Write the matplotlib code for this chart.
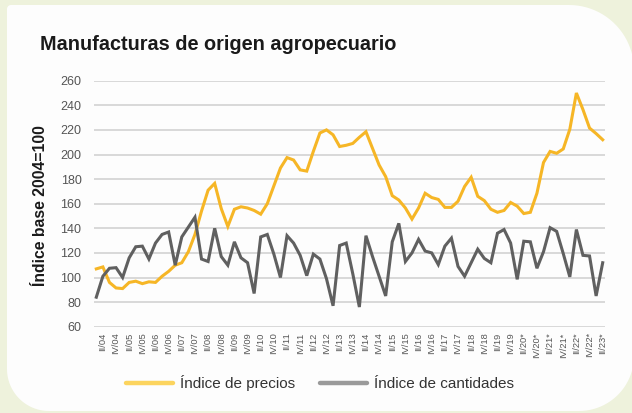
import numpy as np
import matplotlib.pyplot as plt
from matplotlib.path import Path
from matplotlib.patches import PathPatch
from matplotlib.lines import Line2D

W, H = 632, 413

# quarterly series I/04 .. II/23 (78 quarters)
precios = [107, 108.6, 96, 91.5, 91, 96, 97, 95, 96.5, 96,
           101, 105, 110, 112, 121, 135, 154, 171, 176.5,
           156, 141.5, 155.5, 157.5, 156.5, 154.5, 151.5, 160, 174.5, 189,
           197.5, 195.5, 187.5, 186.5, 202.5, 217.5, 220,
           216, 206.5, 207.5, 209, 214, 218.5,
           205, 191.5, 182, 166.5, 163, 156.5, 147.5, 156.5, 168.5, 165,
           163.5, 157, 157, 162, 174, 181.5,
           166, 162.5, 155.5, 153, 154.5, 161, 158, 152, 153, 168.5,
           193.5, 202.5, 201, 204.5, 220.5, 250, 236.5, 221.5, 217, 212]

cantidades = [84, 101, 107.5, 108, 100, 116, 125, 125.5, 115, 128,
              135, 137, 110, 133, 141, 149, 115, 113, 140,
              117, 110, 129, 116, 112, 87, 133, 135, 119, 100,
              134, 128, 118, 101.5, 119, 115, 99, 77, 126, 128,
              103, 76, 134, 117, 101, 85, 129, 144, 113, 120,
              131, 121.5, 120, 110.5, 125.5, 132, 109, 101,
              112, 123, 115.5, 112, 136, 139, 128, 98.5, 129.5, 129,
              107.5, 121, 140.5, 137.5, 119.5, 100.5, 139, 118, 117.5, 85, 112]

tick_labels = ["II/04", "IV/04", "II/05", "IV/05", "II/06", "IV/06", "II/07", "IV/07",
               "II/08", "IV/08", "II/09", "IV/09", "II/10", "IV/10", "II/11", "IV/11",
               "II/12", "IV/12", "II/13", "IV/13", "II/14", "IV/14", "II/15", "IV/15",
               "II/16", "IV/16", "II/17", "IV/17", "II/18", "IV/18", "II/19", "IV/19",
               "II/20*", "IV/20*", "II/21*", "IV/21*", "II/22*", "IV/22*", "II/23*"]

yticks = [60, 80, 100, 120, 140, 160, 180, 200, 220, 240, 260]

AMARILLO = "#f6b626"
GRIS = "#606060"
FONDO = "#eef2dc"

plt.rcParams['font.family'] = ['Liberation Sans', 'DejaVu Sans']

fig = plt.figure(figsize=(W / 100, H / 100), dpi=100)
fig.patch.set_facecolor(FONDO)


def panel_path(x0, y0, x1, y1, r_tl, r_tr, r_br, r_bl, n=24):
    # rounded rectangle in pixel coords (origin top-left), each corner own radius
    pts = []
    def arc(cx, cy, r, a0, a1):
        for a in np.linspace(a0, a1, n):
            pts.append((cx + r * np.cos(a), cy + r * np.sin(a)))
    arc(x0 + r_tl, y0 + r_tl, r_tl, np.pi, 1.5 * np.pi)
    arc(x1 - r_tr, y0 + r_tr, r_tr, 1.5 * np.pi, 2 * np.pi)
    arc(x1 - r_br, y1 - r_br, r_br, 0, 0.5 * np.pi)
    arc(x0 + r_bl, y1 - r_bl, r_bl, 0.5 * np.pi, np.pi)
    pts.append(pts[0])
    pts = [(px / W, 1 - py / H) for px, py in pts]
    return Path(pts)


panel = PathPatch(panel_path(7, 5, 634, 411, 4, 65, 55, 42),
                  facecolor="#fdfdfd", edgecolor="none", transform=fig.transFigure, zorder=-5)
fig.patches.append(panel)

ax = fig.add_axes([94 / W, 1 - 326.7 / H, (605 - 94) / W, (326.7 - 80.7) / H])
ax.set_facecolor("none")
ax.set_zorder(2)

x = np.arange(len(precios))
ax.plot(x, precios, color=AMARILLO, lw=2.2, solid_joinstyle="miter", zorder=3)
ax.plot(x, cantidades, color=GRIS, lw=2.2, solid_joinstyle="miter", zorder=3)

ax.set_xlim(-0.35, len(precios) - 1 + 0.35)
ax.set_ylim(60, 260)
ax.set_yticks(yticks)
ax.grid(axis="y", color="#d6d6d6", lw=1.3, zorder=0)
ax.set_axisbelow(True)
for s in ax.spines.values():
    s.set_visible(False)

ax.set_xticks(np.arange(1, len(precios), 2))
ax.set_xticklabels(tick_labels, rotation=90, fontsize=6.7, color="#555555")
ax.tick_params(axis="x", length=0, pad=4)
ax.tick_params(axis="y", length=0, pad=9, labelsize=9, labelcolor="#555555")

fig.text(40 / W, 1 - 44 / H, "Manufacturas de origen agropecuario", fontsize=14.3,
         fontweight="bold", color="#1a1a1a", va="center", ha="left")
fig.text(41 / W, 1 - 206 / H, "Índice base 2004=100", fontsize=11.3, fontweight="bold",
         color="#1a1a1a", rotation=90, va="center", ha="center")

handles = [Line2D([], [], color="#fcd45e", lw=3.2, solid_capstyle="round"),
           Line2D([], [], color="#9a9a9a", lw=3.2, solid_capstyle="round")]
fig.legend(handles, ["Índice de precios", "Índice de cantidades"], loc="center",
           bbox_to_anchor=(320 / W, 1 - 383 / H), ncol=2, frameon=False, fontsize=11,
           handlelength=3.1, handletextpad=0.45, columnspacing=1.6, labelcolor="#333333")

fig.savefig("out.png", dpi=100, facecolor=fig.get_facecolor())
